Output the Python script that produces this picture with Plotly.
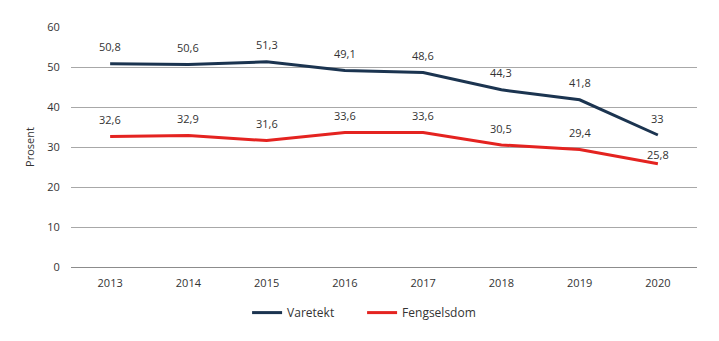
import plotly.graph_objects as go

years = [2013, 2014, 2015, 2016, 2017, 2018, 2019, 2020]
varetekt = [50.8, 50.6, 51.3, 49.1, 48.6, 44.3, 41.8, 33.0]
fengsel = [32.6, 32.9, 31.6, 33.6, 33.6, 30.5, 29.4, 25.8]
y_ticks = [0, 10, 20, 30, 40, 50, 60]

navy = "#1b3450"
red = "#e42320"
txt = "#333333"
font_family = "Open Sans, Noto Sans, sans-serif"

fig = go.Figure()
fig.add_trace(go.Scatter(x=years, y=varetekt, mode="lines", name="Varetekt",
                         line=dict(color=navy, width=3)))
fig.add_trace(go.Scatter(x=years, y=fengsel, mode="lines", name="Fengselsdom",
                         line=dict(color=red, width=3)))

def fmt(v):
    return ("%g" % v).replace(".", ",")

anns = []
for x, v in zip(years, varetekt):
    anns.append(dict(x=x, y=v, text=fmt(v), showarrow=False, yshift=17,
                     font=dict(size=11, color=txt, family=font_family)))
for i, (x, v) in enumerate(zip(years, fengsel)):
    shift = 9 if i == len(years) - 1 else 17
    anns.append(dict(x=x, y=v, text=fmt(v), showarrow=False, yshift=shift,
                     font=dict(size=11, color=txt, family=font_family)))

fig.update_layout(
    width=719, height=341,
    margin=dict(l=71, r=22, t=27, b=74, autoexpand=False),
    paper_bgcolor="white", plot_bgcolor="white",
    font=dict(family=font_family, size=11, color=txt),
    annotations=anns,
    showlegend=True,
    legend=dict(orientation="h", x=0.465, xanchor="center", y=-0.19, yanchor="middle",
                font=dict(size=12, color=txt), entrywidth=70, entrywidthmode="pixels"),
    xaxis=dict(range=[min(years) - 0.5, max(years) + 0.5], tickvals=years,
               ticktext=[str(y) for y in years],
               showgrid=False, zeroline=False, showline=False,
               ticks="outside", ticklen=6, tickcolor="rgba(0,0,0,0)",
               tickfont=dict(size=11, color=txt)),
    yaxis=dict(range=[0, 60], tickvals=y_ticks, showgrid=True, gridcolor="#a8a8a8",
               gridwidth=1, zeroline=True, zerolinecolor="#8c8c8c", zerolinewidth=1,
               showline=False, ticks="outside", ticklen=8, tickcolor="rgba(0,0,0,0)",
               tickfont=dict(size=11, color=txt),
               title=dict(text="Prosent", font=dict(size=11, color=txt), standoff=10)),
)

fig.write_html("out.html")
